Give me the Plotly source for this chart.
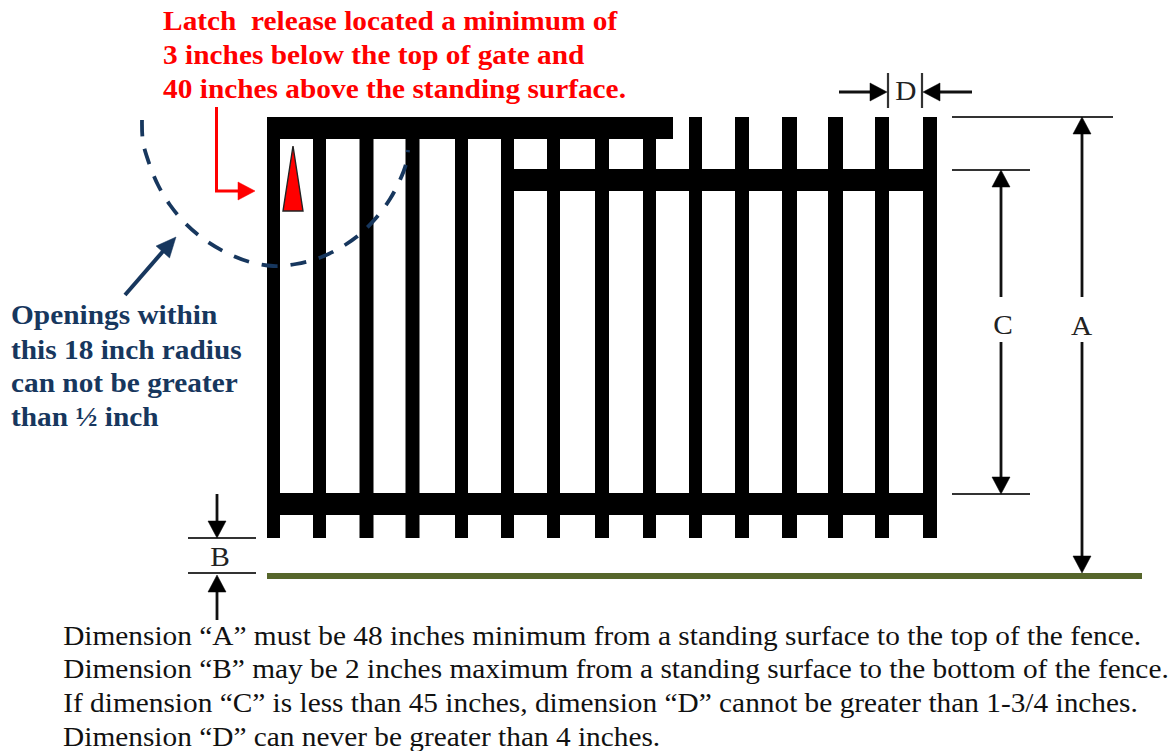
import plotly.graph_objects as go

# --- diagram data (units: picture pixels) ---
picket_x = [273.5, 319.5, 366.5, 412.5, 461.5, 507.5, 553.5, 602, 649.5, 695.5, 742, 789.5, 835.5, 882, 930]
picket_w = [13, 13, 14, 14, 13, 13, 13, 14, 13, 13, 14, 15, 15, 14, 14]
picket_top = 117
picket_bottom = 538

rail_y = [128, 180, 504]
rail_start = [267, 514, 267]
rail_end = [673, 925, 930]
rail_h = 22

ground_x = [267, 1142]
ground_y = [576, 576]

tick_lines = {
    "A_top": ([952, 1113], [117, 117]),
    "C_top": ([952, 1030], [170, 170]),
    "C_bot": ([952, 1030], [494, 494]),
    "D_left": ([888, 888], [73, 108]),
    "D_right": ([922, 922], [73, 108]),
    "B_top": ([188, 256], [538, 538]),
    "B_bot": ([188, 256], [573, 573]),
}
shaft_lines = {
    "A_upper": ([1082, 1082], [130, 297]),
    "A_lower": ([1082, 1082], [342, 560]),
    "C_upper": ([1001, 1001], [183, 297]),
    "C_lower": ([1001, 1001], [342, 482]),
    "D_arrow_l": ([839, 875], [92, 92]),
    "D_arrow_r": ([972, 935], [92, 92]),
    "B_arrow_t": ([217, 217], [494, 525]),
    "B_arrow_b": ([217, 217], [620, 590]),
}
# arrow tips and the direction each one points in
black_tip_x = [1082, 1001, 1082, 1001, 887, 923, 217, 217]
black_tip_y = [117, 170, 573, 494, 92, 92, 538, 575]
black_dir_x = [0, 0, 0, 0, 1, -1, 0, 0]
black_dir_y = [-1, -1, 1, 1, 0, 0, 1, -1]

latch_x = [293, 303, 283, 293]
latch_y = [146, 211, 211, 146]

red_path_x = [216.5, 216.5, 242]
red_path_y = [107, 191, 191]
red_tip = (255, 191)
red_dir = (1, 0)

arc_x = [142, 143, 149, 158, 170, 186, 205, 227, 250, 273, 296, 319, 340, 359, 376, 390, 400, 406, 408]
arc_y = [120, 142, 163, 185, 205, 224, 240, 253, 262, 266, 264, 258, 248, 235, 218, 199, 180, 164, 150]

blue_arrow_x = [125, 165]
blue_arrow_y = [295, 249]
blue_tip = (176, 237)
blue_dir = (0.66, -0.75)

red_lines = ["Latch  release located a minimum of",
             "3 inches below the top of gate and",
             "40 inches above the standing surface."]
red_y = [21, 55, 89]
blue_lines = ["Openings within", "this 18 inch radius", "can not be greater", "than ½ inch"]
blue_y = [315, 350, 383, 417]
black_lines = ["Dimension “A” must be 48 inches minimum from a standing surface to the top of the fence.",
               "Dimension “B” may be 2 inches maximum from a standing surface to the bottom of the fence.",
               "If dimension “C” is less than 45 inches, dimension “D” cannot be greater than 1-3/4 inches.",
               "Dimension “D” can never be greater than 4 inches."]
black_y = [636, 669, 703, 737]
letters = ["A", "C", "D", "B"]
letter_x = [1082, 1003, 906, 220]
letter_y = [326, 325, 91, 557]

BLUE = "#17375e"
SERIF = "Liberation Serif"

fig = go.Figure()
fig.add_trace(go.Bar(x=picket_x, y=[picket_bottom - picket_top] * len(picket_x), base=picket_top,
                     width=picket_w, marker=dict(color="black", line_width=0)))
fig.add_trace(go.Bar(y=rail_y, x=[e - s for s, e in zip(rail_start, rail_end)], base=rail_start,
                     width=rail_h, orientation="h", marker=dict(color="black", line_width=0)))
fig.add_trace(go.Scatter(x=ground_x, y=ground_y, mode="lines", line=dict(color="#56662b", width=6)))
for xs, ys in tick_lines.values():
    fig.add_trace(go.Scatter(x=xs, y=ys, mode="lines", line=dict(color="#333333", width=2.2)))
for xs, ys in shaft_lines.values():
    fig.add_trace(go.Scatter(x=xs, y=ys, mode="lines", line=dict(color="#111111", width=2.8)))


def head(tip, direction, length, width, color):
    tx, ty = tip
    dx, dy = direction
    bx, by = tx - dx * length, ty - dy * length
    px, py = -dy * width / 2, dx * width / 2
    fig.add_trace(go.Scatter(x=[tx, bx + px, bx - px, tx], y=[ty, by + py, by - py, ty], mode="lines",
                             fill="toself", fillcolor=color, line=dict(color=color, width=0.5)))


for tx, ty, dx, dy in zip(black_tip_x, black_tip_y, black_dir_x, black_dir_y):
    head((tx, ty), (dx, dy), 17, 18, "black")

fig.add_trace(go.Scatter(x=latch_x, y=latch_y, mode="lines", fill="toself", fillcolor="#ff0000",
                         line=dict(color="#222222", width=1.4)))
fig.add_trace(go.Scatter(x=red_path_x, y=red_path_y, mode="lines", line=dict(color="#ff0000", width=3)))
head(red_tip, red_dir, 17, 18, "#ff0000")
fig.add_trace(go.Scatter(x=arc_x, y=arc_y, mode="lines",
                         line=dict(color=BLUE, width=3.8, shape="spline", dash="16px 13px")))
fig.add_trace(go.Scatter(x=blue_arrow_x, y=blue_arrow_y, mode="lines", line=dict(color=BLUE, width=4)))
head(blue_tip, blue_dir, 20, 18, BLUE)


def label(txt, x, y, color, size, bold=False, anchor="left"):
    fig.add_annotation(x=x, y=y, text=f"<b>{txt}</b>" if bold else txt, showarrow=False, xanchor=anchor,
                       yanchor="middle", font=dict(family=SERIF, size=size, color=color), xref="x", yref="y")


for t, y in zip(red_lines, red_y):
    label(t, 161, y, "#ff0000", 27, True)
for t, y in zip(blue_lines, blue_y):
    label(t, 9, y, BLUE, 27, True)
for t, y in zip(black_lines, black_y):
    label(t, 61, y, "#111111", 27)
for t, x, y in zip(letters, letter_x, letter_y):
    label(t, x, y, "#222222", 27, False, "center")

fig.update_layout(
    width=1169, height=751, margin=dict(l=0, r=0, t=0, b=0),
    paper_bgcolor="white", plot_bgcolor="white", showlegend=False, barmode="overlay",
    xaxis=dict(range=[0, 1169], visible=False, fixedrange=True),
    yaxis=dict(range=[751, 0], visible=False, fixedrange=True),
)
# the reference's text is stretched horizontally; apply the same stretch to the real text
stretch_js = """
document.body.style.margin='0';document.body.style.overflow='hidden';
document.querySelectorAll('.annotation-text').forEach(function(t){
  t.style.transformBox='fill-box';
  t.style.transformOrigin=(t.textContent.length>1)?'left center':'center center';
  t.style.transform='scaleX(1.087)';
});
"""
fig.write_html("out.html", config={"displayModeBar": False}, post_script=stretch_js)
